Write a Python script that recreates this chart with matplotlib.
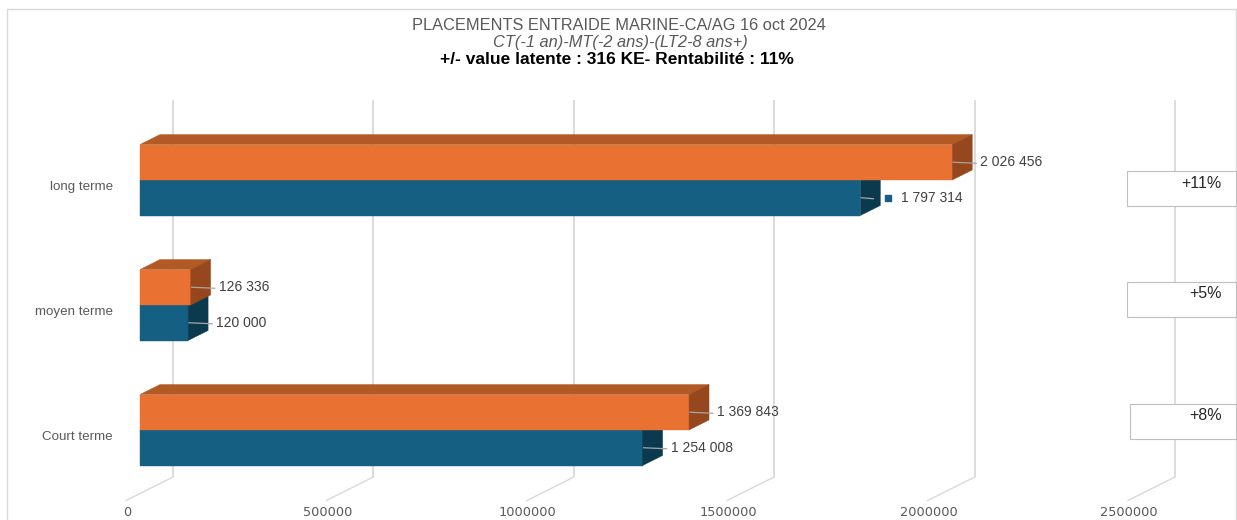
import matplotlib
matplotlib.use("Agg")
import matplotlib.pyplot as plt
from matplotlib.patches import Polygon, Rectangle

# ---------------- data ----------------
categories = ["Court terme", "moyen terme", "long terme"]
valeur_actuelle = [1369843, 126336, 2026456]   # orange series
montant_investi = [1254008, 120000, 1797314]   # blue series
rentabilite = ["+8%", "+5%", "+11%"]
xticks = [0, 500000, 1000000, 1500000, 2000000, 2500000]
title_1 = "PLACEMENTS ENTRAIDE MARINE-CA/AG 16 oct 2024"
title_2 = "CT(-1 an)-MT(-2 ans)-(LT2-8 ans+)"
title_3 = "+/- value latente : 316 KE- Rentabilité : 11%"

# ---------------- style / layout ----------------
W, H = 1237, 520
FONT = "Liberation Sans"
ORANGE_FRONT, ORANGE_TOP, ORANGE_SIDE = "#E97132", "#B25A26", "#97471D"
BLUE_FRONT, BLUE_TOP, BLUE_SIDE = "#156082", "#10496A", "#0B3A4F"
GRID = "#D9D9D9"
GREY = "#595959"

PX_PER_VAL = 200.4 / 500000.0
X0_PX = 140          # pixel of value 0 on the front plane
ROW_PX = 125         # distance between categories
ROW0_PX = 430        # pixel y of first category centre
BAR_PX = 35.5
DX_PX, DY_PX = 20, 10
BACK_PX = 33

fig = plt.figure(figsize=(W / 100, H / 100), dpi=100)
fig.patch.set_facecolor("white")
ax = fig.add_axes([0, 0, 1, 1])
ax.set_xlim(-X0_PX / PX_PER_VAL, (W - X0_PX) / PX_PER_VAL)
ax.set_ylim((ROW0_PX - H) / ROW_PX, ROW0_PX / ROW_PX)
ax.axis("off")


def vx(px):
    return px / PX_PER_VAL


def yv(py):
    return (ROW0_PX - py) / ROW_PX


def fig_px(x, y):
    return x / W, 1 - y / H


dxv, dyv = vx(DX_PX), DY_PX / ROW_PX
hb = BAR_PX / ROW_PX
back = vx(BACK_PX)

# outer frame
fig.patches.append(Rectangle(fig_px(6.5, 530), 1229.5 / W, 521.5 / H,
                             transform=fig.transFigure, fill=False,
                             edgecolor=GRID, lw=1.0, zorder=0))

# back-wall gridlines, floor ticks and tick labels
for t in xticks:
    xb = t + back
    ax.plot([xb, xb], [yv(100), yv(477)], color=GRID, lw=1.3, zorder=1,
            solid_capstyle="butt")
    ax.plot([xb, xb - vx(47)], [yv(477), yv(500.5)], color=GRID, lw=1.0,
            zorder=1)
    ax.text(xb - vx(46), yv(513), f"{t}", ha="center", va="center",
            fontsize=9.3, color=GREY, family="DejaVu Sans")


def bar3d(v, y0, y1, front, top, side):
    ax.add_patch(Rectangle((0, y0), v, y1 - y0, facecolor=front,
                           edgecolor=front, lw=0.3, zorder=3))
    ax.add_patch(Polygon([(0, y1), (v, y1), (v + dxv, y1 + dyv), (dxv, y1 + dyv)],
                         closed=True, facecolor=top, edgecolor=top, lw=0.3,
                         zorder=3))
    ax.add_patch(Polygon([(v, y0), (v + dxv, y0 + dyv), (v + dxv, y1 + dyv), (v, y1)],
                         closed=True, facecolor=side, edgecolor=side, lw=0.3,
                         zorder=3))


def value_label(v, y, key=None):
    s = f"{v:,}".replace(",", " ")
    if key is None:
        ax.plot([v + vx(1), v + vx(24)], [y, y - 1 / ROW_PX], color="#A6A6A6",
                lw=0.9, zorder=4)
        ax.text(v + vx(28), y, s, ha="left", va="center", fontsize=10,
                color="#404040", family=FONT, zorder=5)
    else:
        ax.plot([v + vx(1), v + vx(13)], [y, y - 1 / ROW_PX], color="#A6A6A6",
                lw=0.9, zorder=4)
        ax.plot([v + vx(27.5)], [y], marker="s", ms=5, color=key, zorder=5,
                lw=0)
        ax.text(v + vx(41), y, s, ha="left", va="center", fontsize=10,
                color="#404040", family=FONT, zorder=5)


for i, cat in enumerate(categories):
    c = i
    vb, vo = montant_investi[i], valeur_actuelle[i]
    bar3d(vb, c - hb, c, BLUE_FRONT, BLUE_TOP, BLUE_SIDE)
    bar3d(vo, c, c + hb, ORANGE_FRONT, ORANGE_TOP, ORANGE_SIDE)
    value_label(vo, c + hb / 2)
    value_label(vb, c - hb / 2,
                key=BLUE_FRONT if vb == max(montant_investi) else None)
    ax.text(vx(113 - X0_PX), c - 7 / ROW_PX, cat, ha="right", va="center",
            fontsize=9.6, color=GREY, family=FONT)

# return text boxes (drawn as annotations in pixel layout)
box_tops = [404, 282, 171]
box_lefts = [1130, 1127, 1127]
for i, txt in enumerate(rentabilite):
    x0, y0 = box_lefts[i], box_tops[i]
    fig.patches.append(Rectangle(fig_px(x0, y0 + 35), (W - 1.5 - x0) / W, 35 / H,
                                 transform=fig.transFigure, facecolor="white",
                                 edgecolor="#BFBFBF", lw=0.8, zorder=10))
    fig.text(*fig_px(1222, y0 + 12), txt, ha="right", va="center",
             fontsize=11.5, color="#262626", family=FONT, zorder=11)

# titles
fig.text(*fig_px(619, 25), title_1, ha="center", va="center", fontsize=11.8,
         color=GREY, family=FONT)
fig.text(*fig_px(620, 42), title_2, ha="center", va="center", fontsize=11.8,
         color=GREY, family=FONT, style="italic")
fig.text(*fig_px(617, 59), title_3, ha="center", va="center", fontsize=12.5,
         color="black", family=FONT, weight="bold")

fig.savefig("out.png", dpi=100, facecolor="white")
